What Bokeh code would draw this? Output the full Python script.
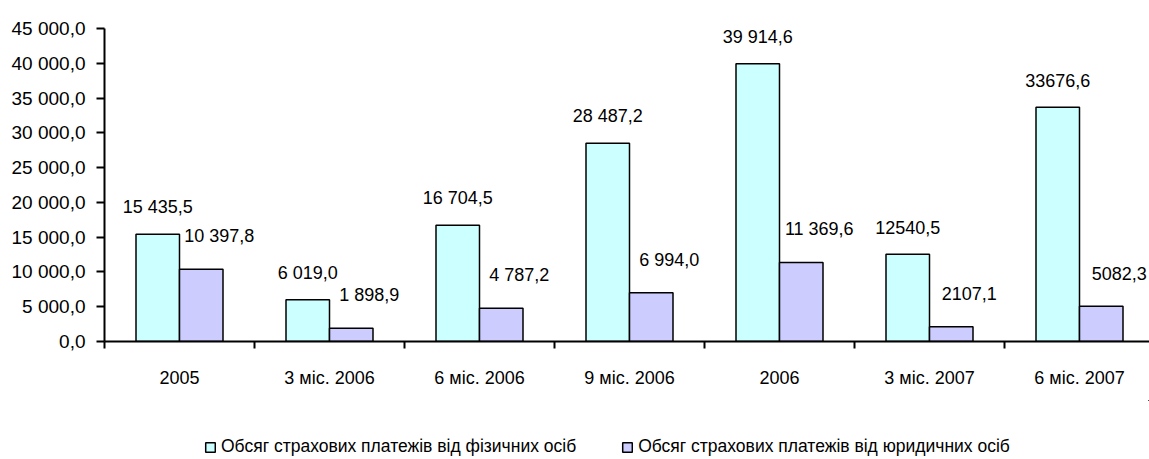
from bokeh.plotting import figure
from bokeh.layouts import column
from bokeh.models import Range1d, FixedTicker, Legend, LegendItem, ColumnDataSource
from bokeh.core.properties import value
from bokeh.embed import file_html
from bokeh.resources import INLINE

# ---- data ----
categories = ["2005", "3 міс. 2006", "6 міс. 2006", "9 міс. 2006", "2006", "3 міс. 2007", "6 міс. 2007"]
physical = [15435.5, 6019.0, 16704.5, 28487.2, 39914.6, 12540.5, 33676.6]
legal = [10397.8, 1898.9, 4787.2, 6994.0, 11369.6, 2107.1, 5082.3]
physical_labels = ["15 435,5", "6 019,0", "16 704,5", "28 487,2", "39 914,6", "12540,5", "33676,6"]
legal_labels = ["10 397,8", "1 898,9", "4 787,2", "6 994,0", "11 369,6", "2107,1", "5082,3"]
y_tick_values = [0, 5000, 10000, 15000, 20000, 25000, 30000, 35000, 40000, 45000]
y_tick_labels = ["0,0", "5 000,0", "10 000,0", "15 000,0", "20 000,0", "25 000,0",
                 "30 000,0", "35 000,0", "40 000,0", "45 000,0"]
series_names = ["Обсяг страхових платежів від фізичних осіб",
                "Обсяг страхових платежів від юридичних осіб"]

FONT = "Liberation Sans"
CYAN = "#CCFFFF"
LILAC = "#CCCCFF"

n = len(categories)
centers = [i + 0.5 for i in range(n)]
x_phys = [i + 0.355 for i in range(n)]
x_legal = [i + 0.645 for i in range(n)]

src_p = ColumnDataSource(dict(x=x_phys, top=physical, lab=physical_labels))
src_l = ColumnDataSource(dict(x=x_legal, top=legal, lab=legal_labels))

p = figure(width=1149, height=400, output_backend="svg", toolbar_location=None,
           x_range=Range1d(0, 1045 / 150), y_range=Range1d(0, 45000),
           min_border_left=104, min_border_right=0, min_border_top=28, min_border_bottom=59)
p.outline_line_color = None
p.grid.visible = False
p.background_fill_color = "white"
p.border_fill_color = "white"

p.vbar(x="x", top="top", width=0.29, source=src_p, fill_color=CYAN,
       line_color="black", line_width=1.5)
p.vbar(x="x", top="top", width=0.29, source=src_l, fill_color=LILAC,
       line_color="black", line_width=1.5)

p.text(x="x", y="top", text="lab", source=src_p, text_align="center", text_baseline="middle",
       y_offset=-27, text_font=value(FONT), text_font_size="18px", text_color="black")
p.text(x="x", y="top", text="lab", source=src_l, text_align="center", text_baseline="middle",
       x_offset=18, y_offset=-33, text_font=value(FONT), text_font_size="18px", text_color="black")

# x axis: ticks at category boundaries, labels at centres
xa = p.xaxis[0]
xa.ticker = FixedTicker(ticks=centers, minor_ticks=list(range(n + 1)))
xa.major_label_overrides = {c: lab for c, lab in zip(centers, categories)}
xa.major_tick_out = 0
xa.major_tick_in = 0
xa.minor_tick_out = 7
xa.minor_tick_in = 0
xa.minor_tick_line_color = "black"
xa.minor_tick_line_width = 2
xa.axis_line_width = 2
xa.axis_line_color = "black"
xa.major_label_standoff = 19
xa.major_label_text_font = FONT
xa.major_label_text_font_size = "18px"
xa.major_label_text_color = "black"

ya = p.yaxis[0]
ya.ticker = FixedTicker(ticks=y_tick_values, minor_ticks=[])
ya.major_label_overrides = {v: lab for v, lab in zip(y_tick_values, y_tick_labels)}
ya.major_tick_out = 8
ya.major_tick_in = 0
ya.major_tick_line_width = 2
ya.major_tick_line_color = "black"
ya.minor_tick_out = 0
ya.minor_tick_in = 0
ya.axis_line_width = 2
ya.axis_line_color = "black"
ya.major_label_standoff = 11
ya.major_label_text_font = FONT
ya.major_label_text_font_size = "19px"
ya.major_label_text_color = "black"

# legend strip below the chart (its bars fall outside its visible range; only the legend shows)
lg = figure(width=1149, height=59, output_backend="svg", toolbar_location=None,
            x_range=Range1d(-3, -2), y_range=Range1d(-3, -2),
            x_axis_location=None, y_axis_location=None,
            min_border_left=0, min_border_right=0, min_border_top=0, min_border_bottom=0)
lg.outline_line_color = None
lg.grid.visible = False
k1 = lg.vbar(x="x", top="top", width=0.29, source=src_p,
             fill_color=CYAN, line_color="black", line_width=1.5)
k2 = lg.vbar(x="x", top="top", width=0.29, source=src_l,
             fill_color=LILAC, line_color="black", line_width=1.5)
legend = Legend(items=[LegendItem(label=series_names[0], renderers=[k1]),
                       LegendItem(label=series_names[1], renderers=[k2])],
                location=(100, 2), orientation="horizontal",
                glyph_width=12, glyph_height=12, label_standoff=5, spacing=45,
                padding=4, margin=0, border_line_color=None, background_fill_alpha=0,
                label_text_font=FONT, label_text_font_size="17.5px", label_text_color="black",
                label_height=12)
lg.add_layout(legend, "center")

layout = column(p, lg, spacing=0)
open("out.html", "w").write(file_html(layout, INLINE))
